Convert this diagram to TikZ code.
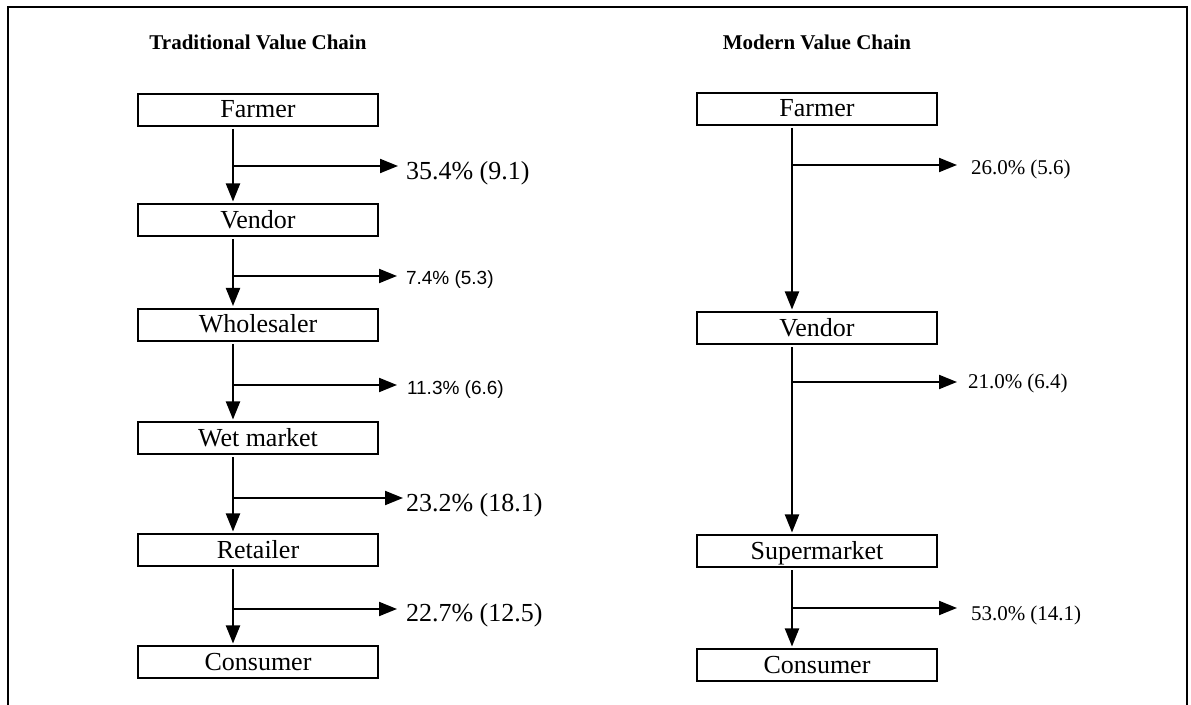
\documentclass[tikz,border=0pt]{standalone}
\usepackage{fontspec}
\setmainfont{Liberation Serif}
\newfontfamily\arial{Liberation Sans}
\usetikzlibrary{arrows.meta}

\begin{document}
\begin{tikzpicture}[x=.5pt,y=-.5pt,line width=1pt,
  box/.style={draw,minimum width=120pt,minimum height=16pt,inner sep=0pt,text height=10pt,text depth=2pt,font=\fontsize{13}{13}\selectfont},
  flow/.style={-{Triangle[length=9pt,width=7pt]}},
  pct/.style={anchor=base west,inner sep=0pt,font=\fontsize{13}{13}\selectfont},
  pcts/.style={anchor=base west,inner sep=0pt,font=\fontsize{10.5}{10.5}\selectfont},
  pcta/.style={anchor=base west,inner sep=0pt,font=\arial\fontsize{9.5}{9.5}\selectfont},
  ttl/.style={font=\bfseries\fontsize{10.5}{10.5}\selectfont}]
\useasboundingbox (0,0) rectangle (1191,705);
\draw (8,705) -- (8,7) -- (1187,7) -- (1187,705);

% traditional chain
\node[ttl] (t1) at (258,42) {Traditional Value Chain};
\node[box] (f1) at (258,110) {Farmer};
\node[box] (v1) at (258,220.5) {Vendor};
\node[box] (w1) at (258,325) {Wholesaler};
\node[box] (m1) at (258,438.5) {Wet market};
\node[box] (r1) at (258,550.5) {Retailer};
\node[box] (c1) at (258,662.5) {Consumer};

% modern chain
\node[ttl] (t2) at (817,42) {Modern Value Chain};
\node[box] (f2) at (817,109) {Farmer};
\node[box] (v2) at (817,328.5) {Vendor};
\node[box] (s2) at (817,551.5) {Supermarket};
\node[box] (c2) at (817,665.5) {Consumer};

\foreach \a/\b in {f1/v1,v1/w1,w1/m1,m1/r1,r1/c1,f2/v2,v2/s2,s2/c2}
  \draw[flow,shorten <=1pt,shorten >=1pt] ([xshift=-12.5pt]\a.south) -- ([xshift=-12.5pt]\b.north);

% margins
\node[pct] (l1) at (405,180) {35.4\% (9.1)};
\node[pcta] (l2) at (405,285) {7.4\% (5.3)};
\node[pcta] (l3) at (406,395) {11.3\% (6.6)};
\node[pct] (l4) at (405,512) {23.2\% (18.1)};
\node[pct] (l5) at (405,622) {22.7\% (12.5)};
\node[pcts] (l6) at (970,175) {26.0\% (5.6)};
\node[pcts] (l7) at (967,389) {21.0\% (6.4)};
\node[pcts] (l8) at (970,621) {53.0\% (14.1)};

\coordinate (b1) at (233,166);
\coordinate (b2) at (233,276);
\coordinate (b3) at (233,385);
\coordinate (b4) at (233,498);
\coordinate (b5) at (233,609);
\coordinate (b6) at (792,165);
\coordinate (b7) at (792,382);
\coordinate (b8) at (792,608);

\foreach \c/\l/\s in {b1/l1/3.5pt,b2/l2/4pt,b3/l3/4.5pt,b4/l4/1pt,b5/l5/4pt,b6/l6/6.5pt,b7/l7/5pt,b8/l8/6.5pt}
  \draw[flow,shorten >=\s] (\c) -- (\c -| \l.west);
\end{tikzpicture}
\end{document}
